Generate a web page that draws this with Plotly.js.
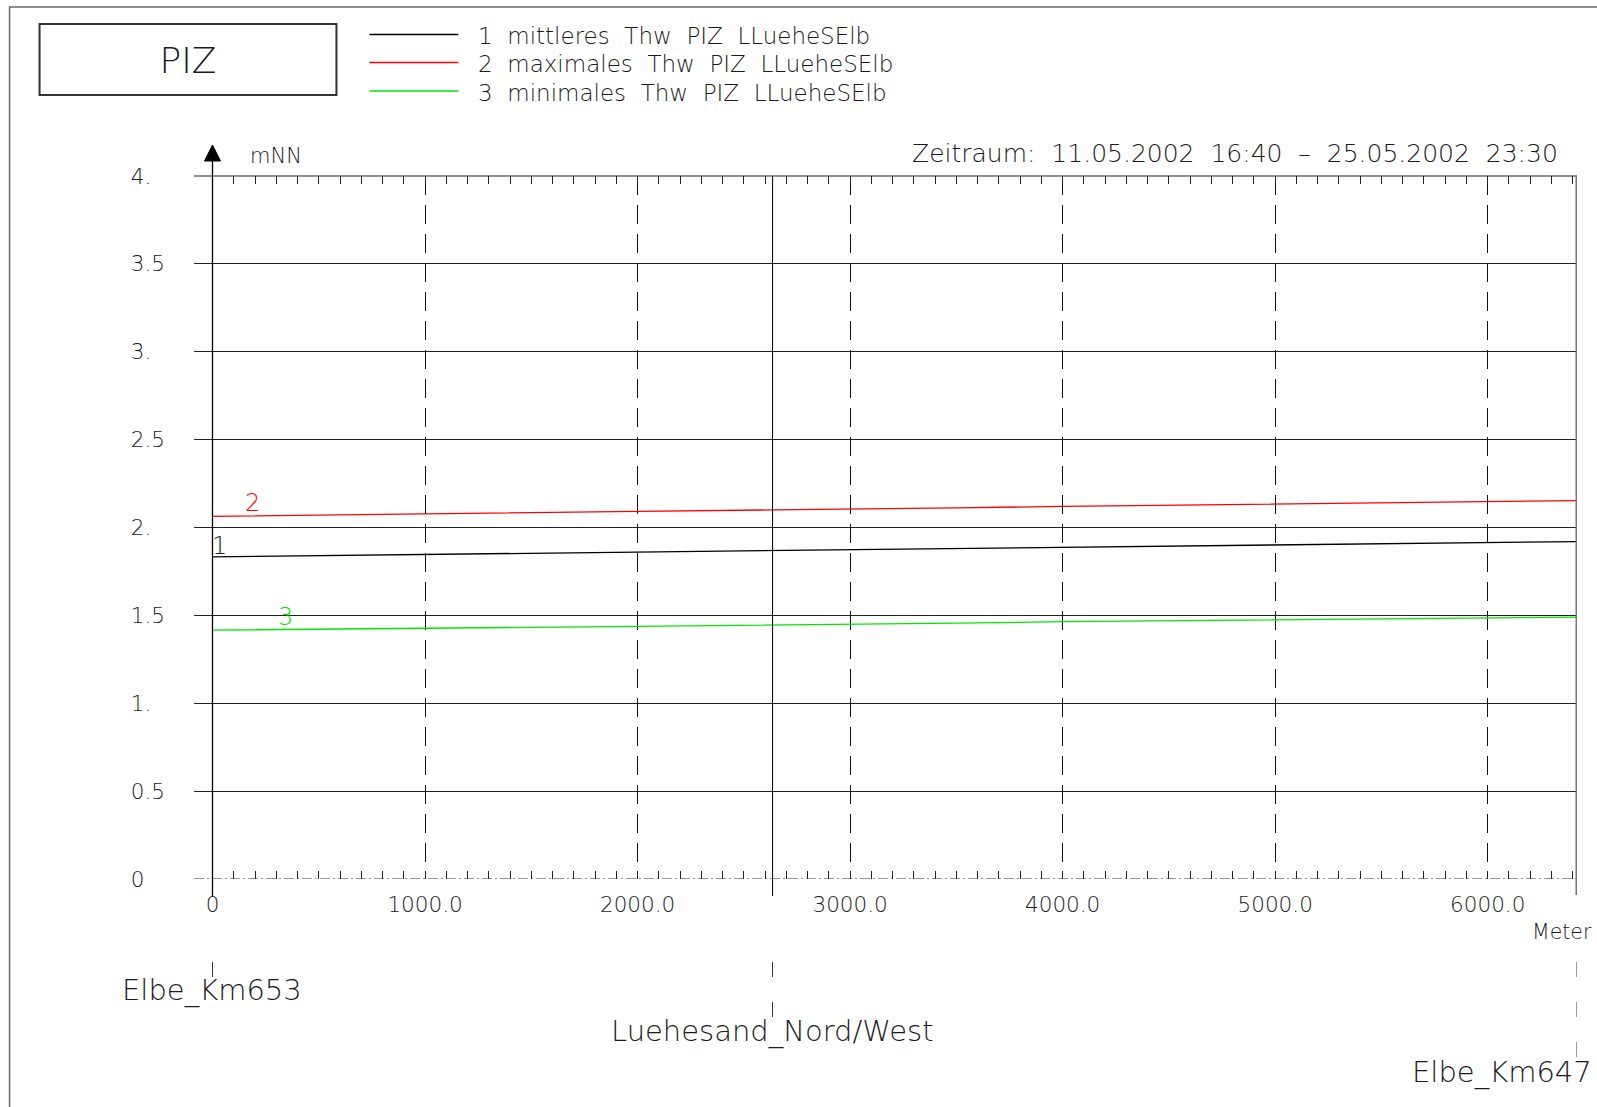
<!DOCTYPE html>
<html>
<head>
<meta charset="utf-8">
<script src="https://cdn.plot.ly/plotly-3.0.1.min.js"></script>
<style>html,body{margin:0;padding:0;background:#fff;}#chart{width:1597px;height:1107px;}</style>
</head>
<body>
<div id="chart"></div>
<script>
// ---------- data ----------
const distance = [0, 500, 1000, 1500, 2000, 2635, 3000, 3500, 4000, 4500, 5000, 5500, 6000, 6420];
const meanThw = [1.833, 1.840, 1.847, 1.854, 1.861, 1.868, 1.873, 1.882, 1.890, 1.897, 1.903, 1.909, 1.915, 1.920];
const maxThw  = [2.063, 2.071, 2.078, 2.085, 2.092, 2.100, 2.104, 2.112, 2.120, 2.127, 2.134, 2.141, 2.148, 2.153];
const minThw  = [1.416, 1.420, 1.426, 1.432, 1.437, 1.444, 1.448, 1.456, 1.464, 1.469, 1.474, 1.480, 1.485, 1.490];
const seriesNames = ['1 mittleres Thw PIZ LLueheSElb', '2 maximales Thw PIZ LLueheSElb', '3 minimales Thw PIZ LLueheSElb'];
const seriesNumbers = ['1', '2', '3'];
const xTickVals = [0, 1000, 2000, 3000, 4000, 5000, 6000];
const xTickText = ['0', '1000.0', '2000.0', '3000.0', '4000.0', '5000.0', '6000.0'];
const yTickVals = [0, 0.5, 1, 1.5, 2, 2.5, 3, 3.5, 4];
const yTickText = ['0', '0.5', '1.', '1.5', '2.', '2.5', '3.', '3.5', '4.'];
const stationNames = ['Elbe_Km653', 'Luehesand_Nord/West', 'Elbe_Km647'];
const stationDistance = [0, 2635, 6420];
const periodText = 'Zeitraum: 11.05.2002 16:40 \u2013 25.05.2002 23:30';
const chartTitle = 'PIZ';
const yUnit = 'mNN';
const xUnit = 'Meter';

// ---------- layout helpers ----------
const W = 1597, H = 1107;
const M = {l: 193.5, r: 20, t: 176, b: 228};
const PW = W - M.l - M.r, PH = H - M.t - M.b;
const px = p => (p - M.l) / PW;          // page pixel -> paper x
const py = p => (H - M.b - p) / PH;      // page pixel -> paper y
const wide = s => s.replace(/ /g, '\u00a0\u00a0');
const FONT = 'DejaVu Sans, Verdana, sans-serif';
const TXT = '#1a1a1a';
const F = (size, color) => ({family: FONT, size: size, color: color || TXT, weight: 200});
const colors = ['#000000', '#ff0000', '#00e600'];
const padLabel = t => t + (t.length === 1 ? '\u00a0\u00a0\u00a0' : (t.length === 2 ? '\u00a0\u00a0' : ''));

const ys = [meanThw, maxThw, minThw];
const traces = ys.map((v, i) => ({
  type: 'scatter', mode: 'lines', x: distance, y: v, name: seriesNames[i],
  line: {color: colors[i], width: 1.3}, hoverinfo: 'x+y+name'
}));

const shapes = [
  // outer frame
  {type: 'rect', xref: 'paper', yref: 'paper', x0: px(9), x1: px(1620), y0: py(7), y1: py(1130),
   line: {color: '#666', width: 1.5}},
  // title box
  {type: 'rect', xref: 'paper', yref: 'paper', x0: px(39), x1: px(336), y0: py(24), y1: py(95),
   line: {color: '#333', width: 2}},
  // top frame line of plot
  {type: 'line', xref: 'paper', yref: 'paper', x0: 0, x1: 1, y0: 1, y1: 1,
   line: {color: '#222', width: 1.2}},
  // baseline (dash-dot)
  {type: 'line', xref: 'paper', yref: 'y', x0: 0, x1: 1, y0: 0, y1: 0,
   line: {color: '#333', width: 1.2, dash: '10px,3px,2px,3px'}},
  // y axis line at x=0 with arrow
  {type: 'line', xref: 'x', yref: 'paper', x0: 0, x1: 0, y0: py(897), y1: py(158),
   line: {color: '#000', width: 1.3}},
  {type: 'path', xref: 'paper', yref: 'paper',
   path: `M ${px(212)} ${py(145)} L ${px(204)} ${py(161)} L ${px(220)} ${py(161)} Z`,
   fillcolor: '#000', line: {color: '#000', width: 1}},
  // station line Luehesand
  {type: 'line', xref: 'x', yref: 'paper', x0: stationDistance[1], x1: stationDistance[1], y0: py(896), y1: 1,
   line: {color: '#111', width: 1.1}},
  // right end
  {type: 'line', xref: 'x', yref: 'paper', x0: stationDistance[2], x1: stationDistance[2], y0: py(895), y1: 1,
   line: {color: '#777', width: 3}},
  // station markers below axis
  {type: 'line', xref: 'x', yref: 'paper', x0: stationDistance[0], x1: stationDistance[0], y0: py(962), y1: py(977),
   line: {color: '#333', width: 1}},
  {type: 'line', xref: 'x', yref: 'paper', x0: stationDistance[1], x1: stationDistance[1], y0: py(962), y1: py(1017),
   line: {color: '#333', width: 1, dash: '15px,25px'}},
  {type: 'line', xref: 'x', yref: 'paper', x0: stationDistance[2], x1: stationDistance[2], y0: py(962), y1: py(1057),
   line: {color: '#333', width: 1, dash: '15px,25px'}}
];
// legend sample lines
const legY = [34.5, 62.5, 91];
legY.forEach((yy, i) => shapes.push({
  type: 'line', xref: 'paper', yref: 'paper', x0: px(369), x1: px(458), y0: py(yy), y1: py(yy),
  line: {color: colors[i], width: 1.3}
}));

const ann = [];
const A = (o) => ann.push(Object.assign({showarrow: false, font: F(22)}, o));
A({xref: 'paper', yref: 'paper', x: px(248), y: py(156), xanchor: 'left', yanchor: 'middle', text: yUnit, font: F(21)});
A({xref: 'paper', yref: 'paper', x: px(1560), y: py(153), xanchor: 'right', yanchor: 'middle', text: wide(periodText), font: F(25)});
A({xref: 'paper', yref: 'paper', x: px(1594), y: py(932), xanchor: 'right', yanchor: 'middle', text: xUnit, font: F(20.5)});
legY.forEach((yy, i) => A({xref: 'paper', yref: 'paper', x: px(476), y: py(yy + 1.5), xanchor: 'left', yanchor: 'middle',
  text: wide(seriesNames[i]), font: F(23)}));
// station names
A({xref: 'x', yref: 'paper', x: stationDistance[0], y: py(990), xanchor: 'center', yanchor: 'middle', text: stationNames[0], font: F(29)});
A({xref: 'x', yref: 'paper', x: stationDistance[1], y: py(1031), xanchor: 'center', yanchor: 'middle', text: stationNames[1], font: F(29)});
A({xref: 'paper', yref: 'paper', x: px(1594), y: py(1072), xanchor: 'right', yanchor: 'middle', text: stationNames[2], font: F(29)});
// line number labels
A({xref: 'x', yref: 'y', x: 33, y: 1.895, xanchor: 'center', yanchor: 'middle', text: seriesNumbers[0], font: F(24, '#222')});
A({xref: 'x', yref: 'y', x: 188, y: 2.139, xanchor: 'center', yanchor: 'middle', text: seriesNumbers[1], font: F(24, colors[1])});
A({xref: 'x', yref: 'y', x: 343, y: 1.491, xanchor: 'center', yanchor: 'middle', text: seriesNumbers[2], font: F(24, colors[2])});

const layout = {
  width: W, height: H,
  margin: {l: M.l, r: M.r, t: M.t, b: M.b, autoexpand: false},
  paper_bgcolor: '#fff', plot_bgcolor: '#fff',
  font: F(20),
  showlegend: false,
  title: {text: chartTitle, xref: 'container', yref: 'container', x: 188 / W, y: 1 - 60 / H,
          xanchor: 'center', yanchor: 'middle', font: F(36)},
  xaxis: {
    range: [-87, 6420], tickmode: 'array', tickvals: xTickVals, ticktext: xTickText,
    ticks: 'inside', ticklen: 8, tickwidth: 1, tickcolor: '#222', mirror: 'ticks',
    showline: false, zeroline: false,
    showgrid: true, gridcolor: '#111', gridwidth: 1, griddash: '19px,10px',
    minor: {tickmode: 'linear', tick0: 0, dtick: 100, ticks: 'inside', ticklen: 8, tickwidth: 1, tickcolor: '#222', showgrid: false},
    tickfont: F(21.5), ticklabelstandoff: 10, fixedrange: true
  },
  yaxis: {
    range: [0, 4], tickmode: 'array', tickvals: yTickVals, ticktext: yTickText.map(padLabel),
    ticks: '', showline: false,
    showgrid: true, gridcolor: '#222', gridwidth: 1,
    zeroline: true, zerolinecolor: '#ffffff', zerolinewidth: 2,
    tickfont: F(21.5), ticklabelstandoff: 28, fixedrange: true
  },
  shapes: shapes,
  annotations: ann
};

Plotly.newPlot('chart', traces, layout, {displayModeBar: false, staticPlot: true});
</script>
</body>
</html>
